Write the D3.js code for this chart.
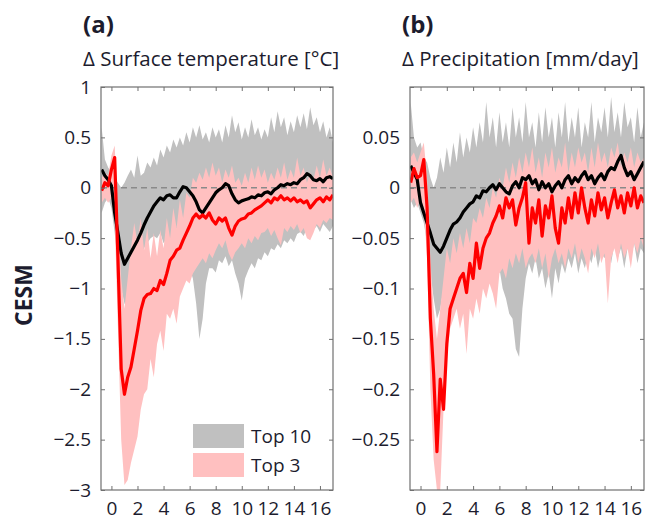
<!DOCTYPE html>
<html lang="en">
<head>
    <meta charset="UTF-8">
    <title>CESM volcanic response</title>
    <script src="https://cdnjs.cloudflare.com/ajax/libs/d3/7.8.2/d3.min.js"></script>
    <style>
        body { margin: 0; background: #fff; }
        svg { font-family: "Open Sans", sans-serif; }
    </style>
</head>
<body>
<div id="chart"></div>
<script>
    // years after eruption, sampled every 3 months
    const years = d3.range(-0.75, 17.001, 0.25);
    const xTicks = [0, 2, 4, 6, 8, 10, 12, 14, 16];

    // (a) surface temperature [°C]
    const tempTicks = [1, 0.5, 0, -0.5, -1, -1.5, -2, -2.5, -3];
    const tempTop10 = [0.18, 0.12, 0.08, 0.02, -0.25, -0.45, -0.65, -0.76, -0.7, -0.64, -0.58, -0.52, -0.45, -0.37, -0.3, -0.24,
        -0.18, -0.14, -0.1, -0.12, -0.08, -0.07, -0.1, -0.1, -0.04, 0.01, 0.0, -0.04, -0.08, -0.14, -0.22, -0.25,
        -0.2, -0.15, -0.1, -0.05, -0.02, 0.0, 0.04, 0.02, -0.06, -0.12, -0.15, -0.13, -0.12, -0.11, -0.09, -0.1,
        -0.07, -0.08, -0.05, -0.04, -0.06, -0.02, 0.0, 0.03, 0.02, 0.04, 0.03, 0.05, 0.04, 0.08, 0.1, 0.14,
        0.12, 0.08, 0.07, 0.09, 0.06, 0.1, 0.11, 0.09];
    const tempTop10Hi = [0.6, 0.28, 0.2, 0.15, 0.1, 0.05, 0.0, 0.05, 0.12, 0.18, 0.1, 0.32, 0.12, 0.15, 0.25, 0.2,
        0.3, 0.22, 0.38, 0.3, 0.42, 0.35, 0.48, 0.4, 0.5, 0.42, 0.55, 0.45, 0.6, 0.5, 0.62, 0.48,
        0.55, 0.45, 0.6, 0.5, 0.58, 0.45, 0.62, 0.5, 0.72, 0.55, 0.65, 0.48, 0.6, 0.5, 0.68, 0.52,
        0.6, 0.48, 0.58, 0.5, 0.7, 0.55, 0.76, 0.6, 0.7, 0.52, 0.66, 0.55, 0.72, 0.6, 0.74, 0.58,
        0.8, 0.62, 0.7, 0.55, 0.66, 0.5, 0.6, 0.45];
    const tempTop10Lo = [-0.25, -0.15, -0.1, -0.2, -0.45, -0.75, -1.0, -1.15, -1.2, -1.1, -1.05, -0.9, -0.75, -0.6, -0.55, -0.5,
        -0.48, -0.5, -0.45, -0.55, -0.5, -0.6, -0.55, -0.65, -0.6, -0.7, -0.65, -0.8, -0.9, -1.15, -1.5, -1.3,
        -0.95, -0.8, -0.8, -0.84, -0.72, -0.75, -0.68, -0.78, -0.72, -0.85, -0.95, -1.12, -0.9, -0.82, -0.75, -0.8,
        -0.7, -0.72, -0.64, -0.68, -0.6, -0.62, -0.56, -0.6, -0.52, -0.55, -0.5, -0.54, -0.46, -0.44, -0.48, -0.4,
        -0.37, -0.42, -0.38, -0.44, -0.36, -0.4, -0.44, -0.38];
    const tempTop3 = [-0.03, 0.05, 0.02, 0.18, 0.3, -0.7, -1.8, -2.05, -1.88, -1.78, -1.6, -1.42, -1.22, -1.1, -1.06, -1.05,
        -1.0, -1.02, -0.92, -0.96, -0.85, -0.72, -0.68, -0.62, -0.6, -0.52, -0.45, -0.38, -0.3, -0.26, -0.3, -0.27,
        -0.3, -0.25, -0.32, -0.36, -0.3, -0.33, -0.3, -0.4, -0.47, -0.38, -0.33, -0.31, -0.3, -0.26, -0.25, -0.22,
        -0.2, -0.18, -0.15, -0.12, -0.15, -0.1, -0.12, -0.08, -0.12, -0.1, -0.13, -0.1, -0.14, -0.12, -0.15, -0.13,
        -0.2, -0.16, -0.12, -0.1, -0.14, -0.09, -0.12, -0.07];
    const tempTop3Hi = [0.1, 0.15, 0.12, 0.32, 0.42, -0.3, -0.9, -1.2, -0.9, -0.6, -0.35, -0.55, -0.3, -0.62, -0.4, -0.7,
        -0.45, -0.68, -0.42, -0.6, -0.3, -0.5, -0.2, -0.4, -0.12, -0.3, -0.05, -0.1, 0.1, 0.05, 0.15, 0.08,
        0.2, 0.1, 0.25, 0.12, 0.2, 0.05, 0.18, 0.1, 0.22, 0.05, 0.1, 0.02, 0.15, 0.05, 0.2, 0.08,
        0.22, 0.1, 0.18, 0.05, 0.15, 0.08, 0.2, 0.1, 0.25, 0.08, 0.18, 0.1, 0.3, 0.12, 0.2, 0.05,
        0.15, 0.08, 0.22, 0.1, 0.28, 0.12, 0.2, 0.1];
    const tempTop3Lo = [-0.15, -0.1, -0.15, -0.1, -0.3, -1.4, -2.5, -2.95, -2.9, -2.73, -2.6, -2.47, -2.2, -2.05, -2.0, -1.7,
        -1.88, -1.55, -1.42, -1.62, -1.25, -1.3, -1.2, -1.35, -1.08, -1.0, -0.92, -0.95, -0.85, -0.8, -0.75, -0.7,
        -0.75, -0.65, -0.7, -0.62, -0.55, -0.6, -0.52, -0.65, -0.72, -0.64, -0.6, -0.55, -0.6, -0.5, -0.55, -0.48,
        -0.52, -0.45, -0.44, -0.4, -0.48, -0.42, -0.5, -0.57, -0.4, -0.44, -0.38, -0.42, -0.36, -0.45, -0.4, -0.5,
        -0.52, -0.45, -0.36, -0.4, -0.32, -0.35, -0.3, -0.32];

    // (b) precipitation [mm/day]
    const precTicks = [0.1, 0.05, 0, -0.05, -0.1, -0.15, -0.2, -0.25, -0.3];
    const precLabels = [0.05, 0, -0.05, -0.1, -0.15, -0.2, -0.25];
    const precTop10 = [0.022, 0.015, 0.008, -0.015, -0.025, -0.035, -0.045, -0.056, -0.06, -0.064, -0.058, -0.05, -0.042, -0.036, -0.034, -0.03,
        -0.024, -0.02, -0.016, -0.014, -0.008, -0.01, -0.003, -0.004, 0.0, 0.003, -0.002, 0.004, 0.0, -0.004, -0.006, 0.002,
        0.006, 0.0, 0.01, 0.008, 0.012, 0.004, 0.008, -0.002, 0.006, 0.0, 0.004, -0.004, 0.002, 0.006, 0.0, 0.008,
        0.012, 0.004, 0.01, 0.006, 0.012, 0.016, 0.008, 0.012, 0.004, 0.01, 0.014, 0.008, 0.016, 0.02, 0.018, 0.026,
        0.032, 0.02, 0.012, 0.016, 0.008, 0.014, 0.02, 0.026];
    const precTop10Hi = [0.085, 0.05, 0.04, 0.045, 0.03, 0.025, 0.01, 0.0, 0.01, 0.03, 0.015, 0.04, 0.02, 0.045, 0.025, 0.055,
        0.03, 0.05, 0.035, 0.06, 0.04, 0.065, 0.045, 0.085, 0.05, 0.07, 0.04, 0.075, 0.045, 0.065, 0.04, 0.08,
        0.05, 0.07, 0.045, 0.085, 0.05, 0.065, 0.04, 0.075, 0.045, 0.08, 0.05, 0.07, 0.04, 0.075, 0.05, 0.085,
        0.045, 0.07, 0.05, 0.08, 0.04, 0.065, 0.05, 0.085, 0.045, 0.07, 0.055, 0.08, 0.05, 0.09, 0.055, 0.075,
        0.05, 0.085, 0.06, 0.07, 0.045, 0.08, 0.05, 0.065];
    const precTop10Lo = [-0.012, -0.02, -0.015, -0.025, -0.035, -0.055, -0.085, -0.11, -0.13, -0.12, -0.1, -0.085, -0.09, -0.075, -0.085, -0.07,
        -0.08, -0.065, -0.075, -0.06, -0.07, -0.06, -0.075, -0.065, -0.08, -0.07, -0.085, -0.08, -0.1, -0.11, -0.125, -0.13,
        -0.16, -0.168, -0.12, -0.09, -0.075, -0.085, -0.07, -0.09, -0.08, -0.1, -0.085, -0.11, -0.08, -0.095, -0.075, -0.085,
        -0.07, -0.08, -0.065, -0.085, -0.07, -0.08, -0.065, -0.075, -0.06, -0.08, -0.065, -0.07, -0.06, -0.075, -0.055, -0.07,
        -0.06, -0.08, -0.06, -0.07, -0.055, -0.075, -0.06, -0.065];
    const precTop3 = [0.005, 0.019, 0.01, 0.012, 0.028, -0.02, -0.13, -0.185, -0.262, -0.19, -0.22, -0.155, -0.12, -0.11, -0.1, -0.09,
        -0.085, -0.104, -0.075, -0.09, -0.055, -0.08, -0.06, -0.05, -0.045, -0.035, -0.028, -0.018, -0.03, -0.01, -0.02, -0.012,
        -0.037, -0.02, -0.01, 0.005, -0.055, -0.02, -0.035, -0.012, -0.048, -0.018, -0.03, -0.008, -0.04, -0.055, -0.02, -0.035,
        -0.01, -0.03, -0.005, -0.025, 0.0, -0.02, -0.035, -0.012, -0.028, -0.005, -0.022, -0.01, -0.03, -0.015, -0.002, -0.02,
        -0.008, -0.025, -0.005, -0.018, 0.0, -0.02, -0.008, -0.015];
    const precTop3Hi = [0.03, 0.035, 0.025, 0.035, 0.045, 0.01, -0.07, -0.12, -0.15, -0.12, -0.09, -0.06, -0.075, -0.05, -0.065, -0.045,
        -0.06, -0.04, -0.055, -0.03, -0.035, -0.02, -0.03, -0.01, -0.02, 0.0, -0.01, 0.01, 0.0, 0.02, 0.005, 0.025,
        0.01, 0.03, 0.015, 0.035, 0.02, 0.04, 0.015, 0.03, 0.01, 0.035, 0.02, 0.04, 0.015, 0.03, 0.02, 0.045,
        0.015, 0.035, 0.02, 0.04, 0.025, 0.035, 0.015, 0.04, 0.02, 0.045, 0.025, 0.035, 0.02, 0.04, 0.03, 0.045,
        0.02, 0.035, 0.025, 0.04, 0.02, 0.035, 0.025, 0.03];
    const precTop3Lo = [-0.015, -0.01, -0.02, -0.01, -0.02, -0.07, -0.2, -0.27, -0.3, -0.3, -0.22, -0.17, -0.14, -0.13, -0.12, -0.14,
        -0.125, -0.165, -0.12, -0.13, -0.11, -0.125, -0.1, -0.11, -0.095, -0.105, -0.12, -0.085, -0.08, -0.09, -0.07, -0.08,
        -0.065, -0.075, -0.06, -0.08, -0.07, -0.065, -0.075, -0.06, -0.08, -0.065, -0.09, -0.07, -0.06, -0.075, -0.065, -0.08,
        -0.06, -0.07, -0.055, -0.075, -0.06, -0.07, -0.085, -0.06, -0.07, -0.055, -0.075, -0.065, -0.115, -0.07, -0.06, -0.075,
        -0.055, -0.07, -0.06, -0.08, -0.055, -0.065, -0.05, -0.06];

    const legendItems = [
        { label: "Top 10", color: "#c0c0c0" },
        { label: "Top 3", color: "#ffc0c0" }
    ];

    const width = 650, height = 520;
    const svg = d3.select("#chart").append("svg")
        .attr("width", width)
        .attr("height", height);

    function drawPanel(p) {
        const x = d3.scaleLinear().domain([-0.8, 17]).range([p.left, p.right]);
        const y = d3.scaleLinear().domain(p.yDomain).range([p.bottom, p.top]);
        const g = svg.append("g");

        g.append("clipPath").attr("id", "clip-" + p.id)
            .append("rect")
            .attr("x", p.left).attr("y", p.top)
            .attr("width", p.right - p.left).attr("height", p.bottom - p.top);

        const plot = g.append("g").attr("clip-path", `url(#clip-${p.id})`);

        const area = (lo, hi) => d3.area()
            .x((d, i) => x(years[i]))
            .y0((d, i) => y(lo[i]))
            .y1((d, i) => y(hi[i]))(years);
        const line = vals => d3.line()
            .x((d, i) => x(years[i]))
            .y(d => y(d))(vals);

        plot.append("path").attr("d", area(p.top10Lo, p.top10Hi)).attr("fill", "#c0c0c0");
        plot.append("path").attr("d", area(p.top3Lo, p.top3Hi)).attr("fill", "#ffc0c0");

        plot.append("line")
            .attr("x1", p.left).attr("x2", p.right)
            .attr("y1", y(0)).attr("y2", y(0))
            .attr("stroke", "#8a8a8a")
            .attr("stroke-width", 1.5)
            .attr("stroke-dasharray", "6,4");

        plot.append("path").attr("d", line(p.top10))
            .attr("fill", "none").attr("stroke", "#000").attr("stroke-width", 3.2)
            .attr("stroke-linejoin", "round");
        plot.append("path").attr("d", line(p.top3))
            .attr("fill", "none").attr("stroke", "#ff0000").attr("stroke-width", 3.2)
            .attr("stroke-linejoin", "round");

        // axes: labels on left and bottom, inward ticks on all sides
        const fmt = d3.format("~g");
        g.append("g")
            .attr("transform", `translate(0,${p.bottom})`)
            .call(d3.axisBottom(x).tickValues(xTicks).tickSizeInner(-4).tickSizeOuter(0).tickPadding(12))
            .call(a => a.select(".domain").remove());
        g.append("g")
            .attr("transform", `translate(0,${p.top})`)
            .call(d3.axisTop(x).tickValues(xTicks).tickSizeInner(-4).tickSizeOuter(0).tickFormat(""))
            .call(a => a.select(".domain").remove());
        g.append("g")
            .attr("transform", `translate(${p.left},0)`)
            .call(d3.axisLeft(y).tickValues(p.ticks).tickSizeInner(-4).tickSizeOuter(0).tickPadding(10)
                .tickFormat(d => p.labels.includes(d) ? fmt(d) : ""))
            .call(a => a.select(".domain").remove());
        g.append("g")
            .attr("transform", `translate(${p.right},0)`)
            .call(d3.axisRight(y).tickValues(p.ticks).tickSizeInner(-4).tickSizeOuter(0).tickFormat(""))
            .call(a => a.select(".domain").remove());

        g.selectAll(".tick line").attr("stroke", "#707070");
        g.selectAll(".tick text")
            .attr("fill", "#1c1c2e")
            .style("font-size", "19px")
            .style("font-family", "'Open Sans', sans-serif");

        g.append("rect")
            .attr("x", p.left).attr("y", p.top)
            .attr("width", p.right - p.left).attr("height", p.bottom - p.top)
            .attr("fill", "none").attr("stroke", "#707070").attr("stroke-width", 1.2);

        g.append("text")
            .attr("x", p.left + p.titleDx).attr("y", 33)
            .attr("font-size", 24).attr("font-weight", "bold").attr("fill", "#1c1c2e")
            .text(p.letter);
        g.append("text")
            .attr("x", p.left + p.titleDx).attr("y", 66)
            .attr("font-size", 20.5).attr("fill", "#1c1c2e")
            .text(p.title);

        return { x, y, g };
    }

    const pa = drawPanel({
        id: "a", letter: "(a)", title: "\u0394 Surface temperature [\u00b0C]", titleDx: -18,
        left: 101, right: 333, top: 87, bottom: 490, yDomain: [-3, 1],
        ticks: tempTicks, labels: tempTicks,
        top10: tempTop10, top10Hi: tempTop10Hi, top10Lo: tempTop10Lo,
        top3: tempTop3, top3Hi: tempTop3Hi, top3Lo: tempTop3Lo
    });

    drawPanel({
        id: "b", letter: "(b)", title: "\u0394 Precipitation [mm/day]", titleDx: -8,
        left: 410, right: 644, top: 87, bottom: 490, yDomain: [-0.3, 0.1],
        ticks: precTicks, labels: precLabels,
        top10: precTop10, top10Hi: precTop10Hi, top10Lo: precTop10Lo,
        top3: precTop3, top3Hi: precTop3Hi, top3Lo: precTop3Lo
    });

    // row label
    svg.append("text")
        .attr("transform", "translate(32,295) rotate(-90)")
        .attr("text-anchor", "middle")
        .attr("font-size", 23).attr("font-weight", "bold").attr("fill", "#1c1c2e")
        .text("CESM");

    // legend inside panel (a)
    const legend = pa.g.append("g").attr("transform", "translate(193,424)");
    legend.selectAll("rect")
        .data(legendItems).enter().append("rect")
        .attr("x", 0).attr("y", (d, i) => i * 29)
        .attr("width", 51).attr("height", 24)
        .attr("fill", d => d.color);
    legend.selectAll("text")
        .data(legendItems).enter().append("text")
        .attr("x", 58).attr("y", (d, i) => i * 29 + 19)
        .attr("font-size", 19).attr("fill", "#1c1c2e")
        .text(d => d.label);
</script>
</body>
</html>
